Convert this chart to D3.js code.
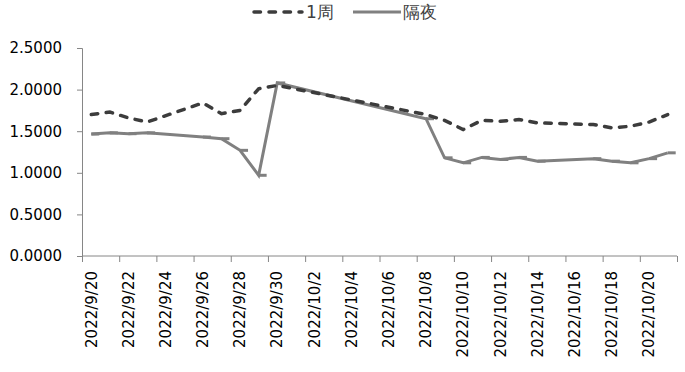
<!DOCTYPE html>
<html>
<head>
<meta charset="utf-8">
<script src="https://cdn.jsdelivr.net/npm/d3@7/dist/d3.min.js"></script>
<style>
  body { margin: 0; background: #fff; }
  text { font-family: "DejaVu Sans", sans-serif; }
</style>
</head>
<body>
<div id="chart"></div>
<script>
// trading days shown on the chart
var dates = ['2022-09-20','2022-09-21','2022-09-22','2022-09-23','2022-09-26','2022-09-27',
  '2022-09-28','2022-09-29','2022-09-30','2022-10-08','2022-10-09','2022-10-10','2022-10-11',
  '2022-10-12','2022-10-13','2022-10-14','2022-10-17','2022-10-18','2022-10-19','2022-10-20','2022-10-21'];
var week = [1.70, 1.73, 1.66, 1.61, 1.84, 1.71, 1.75, 2.01, 2.05, 1.70, 1.63, 1.52, 1.63,
  1.62, 1.64, 1.60, 1.58, 1.54, 1.56, 1.61, 1.70];
var overnight = [1.466, 1.48, 1.47, 1.48, 1.43, 1.41, 1.27, 0.97, 2.08, 1.65, 1.18, 1.12, 1.185,
  1.16, 1.185, 1.14, 1.17, 1.14, 1.12, 1.17, 1.24];
var yTicks = [0, 0.5, 1, 1.5, 2, 2.5];
var seriesNames = ['1周', '隔夜'];

var W = 685, H = 372;
var parse = d3.timeParse('%Y-%m-%d');
var day = 864e5;

var svg = d3.select('#chart').append('svg')
    .attr('width', W)
    .attr('height', H);

var x = d3.scaleTime()
    .domain([parse('2022-09-20'), parse('2022-10-22')])
    .range([82, 677]);
var y = d3.scaleLinear().domain([0, 2.5]).range([256, 48]);

// points sit in the middle of their day
var mid = function(s) { return x(new Date(parse(s).getTime() + day / 2)); };

var tickDays = d3.timeDay.range(parse('2022-09-20'), parse('2022-10-23'), 2);

// y axis
var yAxis = svg.append('g')
    .attr('transform', 'translate(82,0)')
    .call(d3.axisLeft(y).tickValues(yTicks).tickSize(5).tickPadding(15)
        .tickFormat(d3.format('.4f')));
yAxis.selectAll('path, line').attr('stroke', '#868686');
yAxis.selectAll('text').attr('font-size', 15).attr('fill', '#000');

// x axis (ticks at day edges, labels centred on days)
var xAxis = svg.append('g')
    .attr('transform', 'translate(0,256)')
    .call(d3.axisBottom(x).tickValues(tickDays).tickSize(6).tickFormat(''));
xAxis.select('.domain').attr('d', 'M82,0H677');
xAxis.selectAll('path, line').attr('stroke', '#868686');

svg.append('g').selectAll('text')
    .data(tickDays.slice(0, -1))
    .join('text')
    .attr('transform', function(d) {
        return 'translate(' + x(new Date(d.getTime() + day / 2)) + ',271) rotate(-90)';
    })
    .attr('text-anchor', 'end')
    .attr('dy', '0.35em')
    .attr('font-size', 15)
    .attr('fill', '#000')
    .text(d3.timeFormat('%Y/%-m/%-d'));

var line = function(vals) {
    return d3.line()
        .x(function(d, i) { return mid(dates[i]); })
        .y(function(d) { return y(d); })(vals);
};

// 隔夜
svg.append('path')
    .attr('d', line(overnight))
    .attr('fill', 'none')
    .attr('stroke', '#808080')
    .attr('stroke-width', 3);
svg.append('g').selectAll('line')
    .data(overnight)
    .join('line')
    .attr('x1', function(d, i) { return mid(dates[i]); })
    .attr('x2', function(d, i) { return mid(dates[i]) + 8; })
    .attr('y1', function(d) { return y(d); })
    .attr('y2', function(d) { return y(d); })
    .attr('stroke', '#808080')
    .attr('stroke-width', 3);

// 1周
svg.append('path')
    .attr('d', line(week))
    .attr('fill', 'none')
    .attr('stroke', '#3c3c3c')
    .attr('stroke-width', 3.5)
    .attr('stroke-linecap', 'round')
    .attr('stroke-dasharray', '6.5,8.5');

// legend
var legend = svg.append('g');
legend.append('line')
    .attr('x1', 254).attr('x2', 302).attr('y1', 12).attr('y2', 12)
    .attr('stroke', '#3c3c3c').attr('stroke-width', 3.5)
    .attr('stroke-linecap', 'round').attr('stroke-dasharray', '6.5,8.5');
legend.append('text')
    .attr('x', 306).attr('y', 12).attr('dy', '0.35em')
    .attr('font-size', 17).attr('fill', '#404040')
    .attr('font-family', '"Noto Sans CJK SC", sans-serif')
    .text(seriesNames[0]);
legend.append('line')
    .attr('x1', 353).attr('x2', 401).attr('y1', 12).attr('y2', 12)
    .attr('stroke', '#808080').attr('stroke-width', 3);
legend.append('text')
    .attr('x', 403).attr('y', 12).attr('dy', '0.35em')
    .attr('font-size', 17).attr('fill', '#404040')
    .attr('font-family', '"Noto Sans CJK SC", sans-serif')
    .text(seriesNames[1]);
</script>
</body>
</html>
